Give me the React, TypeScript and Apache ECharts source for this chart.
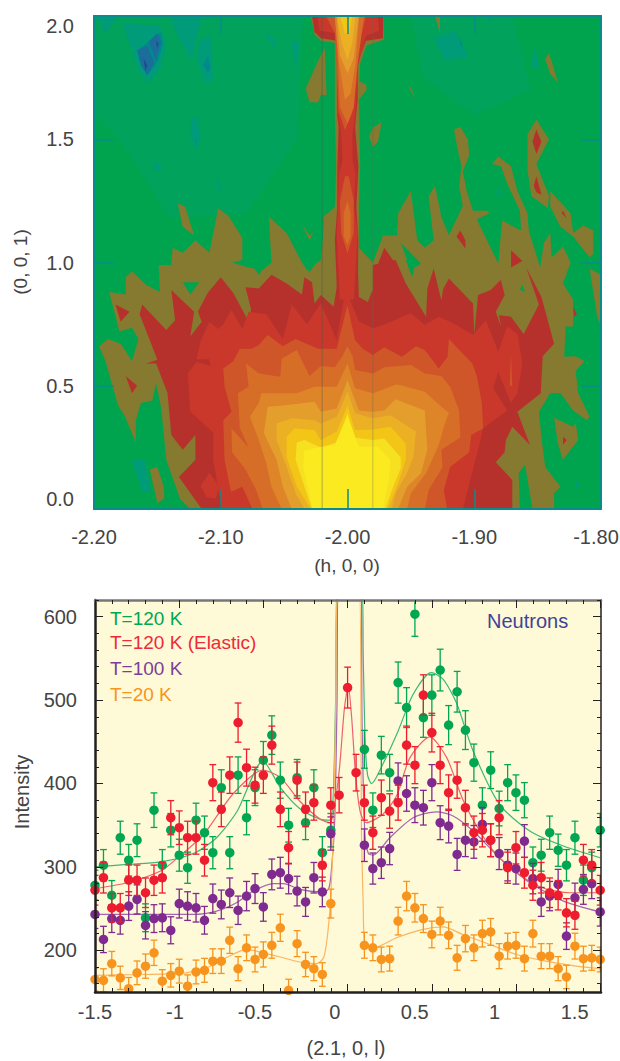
import React, { useEffect, useRef } from "react";
import * as echarts from "echarts";

// ---------- contour map: vertices are [ (h + 2.2) * 1000, l * 100 ] ----------
type P = number[][];
const levelBase: P[] = [[[0, 0], [400, 0], [400, 200], [0, 200]]];
const levelHaze: P[] = [
  [[2, 200], [165, 200], [160, 150], [120, 120], [60, 118], [20, 150], [0, 160]],
  [[250, 200], [330, 200], [345, 170], [300, 160], [260, 175]],
];
const levelTeal: P[] = [
  [[2, 200], [19, 200], [9, 193]],
  [[23, 197], [52, 196], [57, 188], [52, 178], [42.6, 173], [35, 178], [28, 189]],
  [[60, 200], [85, 200], [77, 182], [66, 192]],
  [[83, 190], [92, 192], [94, 174], [88, 172.6], [81, 182]],
  [[136, 193], [144, 190], [143, 187], [136, 191.4]],
  [[156, 190], [161.6, 189], [160, 179.4], [157, 184]],
  [[77, 159], [81, 159], [84, 152], [81, 145], [76, 151.6]],
  [[47, 141], [53.6, 139], [51, 137], [47, 139]],
  [[95, 136], [101, 129.4], [98, 130]],
  [[268, 191], [285, 194], [295, 183.5], [277, 182]],
  [[348, 188], [351, 178], [345, 180]],
  [[310, 200], [314, 200], [312, 197]],
  [[318, 131], [322, 128], [318, 127]],
  [[30, 20], [40, 20], [45, 7], [38, 7]],
  [[381, 12], [383, 9], [380, 9]],
];
const levelDeepTeal: P[] = [
  [[34, 186], [52.6, 193.5], [54.6, 188.5], [50, 181], [42, 176], [37, 180]],
  [[90, 184], [92, 179], [90, 177], [86, 180]],
  [[80, 151], [81, 149], [80, 148]],
  [[288, 191.6], [291, 187.8], [289, 188]],
];
const levelBlue: P[] = [
  [[43, 189.6], [50, 193], [53, 189.6], [49, 182]],
  [[34, 186], [42, 188], [47.6, 181], [42, 176], [37.3, 180]],
];
const levelNavy: P[] = [
  [[39, 183], [42, 180], [40.6, 177.6]],
  [[49, 190], [51, 188.6], [49.7, 187]],
];
const levelOlive: P[] = [
  [[76, 0], [68, 4], [57, 20], [53, 41], [49, 51], [46, 44], [37, 43], [33, 36], [33, 27], [24, 38], [19, 42], [9, 60], [4, 66], [11, 69], [21, 67], [30, 60], [35, 69], [30, 73.5], [20, 72], [12, 88], [25, 87], [25, 94], [30, 96.5], [41, 91], [52, 88], [51, 99], [61, 99], [62, 106], [70, 104], [80, 109], [91, 104], [98, 122], [106, 119], [117, 110], [117, 101], [109, 100], [122, 98], [133, 97], [140, 100], [138, 118.6], [152, 112], [163, 101], [168, 97], [179, 101], [180, 106], [182, 119], [190, 122], [209, 106], [220, 100], [228, 111], [239, 111], [240, 120], [250, 129], [255, 109], [261, 106], [268, 109], [264, 127], [269, 131], [274, 118.6], [280, 111], [291, 123], [288, 131], [290, 139], [287, 145.6], [284, 154], [289, 155], [295, 150], [296, 143.5], [291, 137], [294, 129], [299, 121], [310, 121], [312, 120], [302, 117.5], [319, 99.6], [322, 117], [337, 113], [336, 121], [326, 132], [321, 139], [314, 140], [319, 143], [329, 139], [334, 129], [342, 120], [343, 113], [352, 98], [355, 108], [360, 112], [361, 102], [370, 106.5], [376, 100], [370, 91.5], [378, 85], [378, 74], [385, 74], [372, 74], [371, 61.8], [380, 62], [387, 60], [380, 56], [382, 47], [391, 37.4], [389, 36], [378, 40], [368, 47], [360, 47], [351, 39.5], [353, 29], [356, 17], [368, 9], [363, 6.4], [363, 0], [346, 0], [340, 18], [335, 14.5], [336, 0]],
  [[360, 129], [376, 120], [378, 112], [386, 115], [394, 113], [394, 103.7], [391, 102], [378, 110.5], [368, 114.5], [360, 122.6]],
  [[391, 97.5], [400, 95], [400, 74], [397, 78]],
  [[363, 37], [378, 33.4], [380, 35], [382, 28], [370, 20], [366, 26.5]],
  [[44, 16], [50, 17], [55, 9], [55.5, 4.3], [50, 2.3]],
  [[66, 124], [72, 122.6], [79, 111], [70, 114.5]],
  [[164, 115.6], [170, 111], [173, 112.4], [170, 109]],
  [[228, 131], [235, 124.7], [231, 128.5]],
  [[349, 158], [359, 150], [349, 140], [359, 127], [358, 122], [345, 127], [342, 137.5], [342, 152]],
  [[269, 200], [273, 200], [273, 193]],
  [[359, 185], [366, 173], [360, 176.5], [356, 182.5]],
  [[249, 172], [254, 166], [249, 170.5]],
  [[227, 157], [224, 149], [220, 147], [217, 151], [220, 154.7]],
  [[177, 182], [182, 187], [183.5, 168], [179, 168], [177, 165], [170, 165], [167, 170.6]],
  [[209, 173.6], [215, 172], [215, 170], [209, 166]],
  [[171, 200], [174, 192.4], [179, 190], [190, 189], [190, 159], [191, 139], [190, 122.6], [181.4, 118.6], [180, 98], [211, 98], [209, 106], [209, 122.6], [210, 139], [209, 166], [210, 180.7], [215, 188], [229, 190.5], [228.2, 200]],
];
const levelHoles: P[] = [
  [[70, 92], [83, 92], [76, 87]],
  [[122, 101], [138, 101], [130, 95]],
  [[163, 101], [176.5, 101], [170, 96]],
  [[246, 101], [254, 101], [251, 94]],
  [[242, 108], [258, 99.6], [250, 97]],
  [[338, 91], [340, 88], [336, 89]],
];
const levelDarkRed: P[] = [
  [[85, 0], [67, 13], [80, 20], [80, 30], [70, 24], [61, 30], [58, 47], [49, 59], [41, 59], [50, 60.5], [36, 79], [38, 83], [57, 72.6], [64, 76.6], [61, 88.8], [79, 80], [76, 70], [85, 76], [82, 80], [89.5, 87.5], [100, 94], [110, 87.5], [121, 77], [124, 80.7], [119.5, 90], [130, 89.5], [140, 95], [152, 91.5], [164, 87], [166, 94], [172, 92], [174, 83.4], [179, 86.8], [189, 82], [191.5, 90], [192, 101], [208, 101], [209, 86], [216, 84], [220, 89], [220, 99], [238, 101], [246, 91.5], [262, 78], [263, 89.5], [268, 97.6], [274, 84.7], [275.6, 89.5], [280, 93.5], [299, 83.4], [300, 71], [303, 86.8], [313, 88.8], [321, 93], [324, 86.8], [317, 80], [321, 74], [319.5, 78.6], [329, 78], [339, 71], [351, 83], [341, 98], [353, 86], [363, 67], [354, 62], [352.5, 47], [334, 39.5], [344, 26], [330, 33.4], [325, 28], [324, 23], [317, 19], [330, 11.8], [330, 0]],
  [[17, 83], [28, 80], [21, 76]],
  [[25, 54], [34, 50], [30, 47]],
  [[229, 106], [240, 98], [223, 98]],
  [[289, 113], [293, 109], [293, 105.7], [286, 110.5]],
  [[329, 105], [338, 100.6], [329, 98]],
  [[370, 121], [373, 118], [369, 120]],
  [[378, 82], [381, 79], [379, 78]],
  [[370, 29.3], [373, 28], [370, 26]],
  [[349, 154], [353, 149], [349, 144], [346, 149]],
  [[349, 135], [353, 127.5], [349, 128.5], [347, 131]],
  [[172, 200], [174, 193.5], [179, 191], [192, 190], [192, 159], [193, 155], [192, 139], [192, 122.6], [190, 109], [192, 85], [208, 85], [208.6, 109], [207, 122.6], [208.6, 139], [206, 155], [208, 166], [208, 181], [214.6, 190], [228, 191], [228, 200]],
];
const levelRed: P[] = [
  [[101, 0], [94, 20], [94, 31], [76, 39.5], [74, 55], [81, 59.7], [92, 58], [91, 60.7], [81, 60.7], [84, 68], [91, 76], [98, 73], [102, 75], [108.5, 80.7], [117, 73], [122, 80], [136, 79], [149, 69], [156, 83], [168, 75], [179, 83.4], [191.5, 68.5], [197, 84.8], [200, 88], [202, 84.8], [209, 76], [220, 73.3], [228, 74.6], [250, 79.4], [261, 74.6], [272, 78], [285, 75], [299, 70.6], [309, 76.6], [319, 63.8], [326, 74], [334, 71], [338, 59], [334, 47], [329, 43], [319, 55.7], [315, 49], [326, 40], [307, 32.7], [303, 24], [291, 0]],
  [[91, 14.7], [99, 9], [96, 4.3], [89, 4.7], [84, 9.3]],
  [[176.5, 200], [178, 194], [191.5, 193], [192.5, 160.5], [195, 152.4], [196, 141.5], [193.5, 136], [192.5, 122.6], [191.5, 112], [194, 85], [205, 85], [208, 112], [205, 122.6], [206.4, 136], [204, 141.5], [204, 152.4], [206.4, 160.5], [208, 179.4], [214.6, 192], [225, 194], [224, 200]],
];
const levelOrangeRed: P[] = [
  [[125, 0], [117, 9], [108, 7], [103, 20], [102, 36], [108.5, 39.5], [103, 49.6], [102, 57], [110, 60], [115, 65], [124, 65], [130, 66.5], [137, 70.6], [149, 66], [159, 69], [176.6, 65], [191.5, 65], [197, 76.6], [200, 82.7], [202.5, 76.6], [206, 68.5], [212, 65], [220, 62.5], [229, 65.6], [243, 61.8], [254, 66], [261, 64.5], [272, 57], [279, 61.8], [280, 69], [298.5, 59], [302, 54], [306, 43], [307, 32.7], [297.6, 30], [296, 23], [281, 17], [276, 7.7], [278.6, 0]],
  [[329, 63], [330, 50], [328, 50]],
  [[183, 200], [190, 193], [191.5, 179.4], [193, 161.8], [198, 153.7], [203.7, 160.5], [207, 179.4], [208, 186], [214.6, 200]],
  [[198, 135], [194, 125], [195, 112], [200, 103.7], [205, 112], [205, 125], [201, 135]],
];
const levelOrange: P[] = [
  [[133, 0], [128, 7.7], [119.5, 16], [109, 23], [108.5, 32.7], [122, 25], [115, 33], [113.5, 47], [122, 49.6], [120, 59], [130, 55], [147, 53.7], [148, 61], [160, 64.5], [170, 54], [179, 58], [190, 57.5], [196, 62], [200, 66], [204, 62], [206, 56.4], [220, 55], [229, 57.5], [250, 58.4], [261, 55], [274, 54], [281, 49.6], [288, 40], [289, 29], [274, 24], [275, 17], [264, 7.7], [261, 0]],
  [[190, 200], [192, 186], [194, 163], [200, 156.4], [205, 163], [208, 180.7], [213, 200]],
  [[200, 125], [197, 120], [197, 110.5], [200, 107], [202.5, 110.5], [202.5, 120]],
];
const levelAmber1: P[] = [
  [[148, 0], [140, 9], [136, 18.5], [130, 28], [123, 37.4], [130, 43], [132, 47], [160, 47], [174, 49.6], [191.5, 49.6], [200, 59], [206, 49], [220, 47], [239, 50.6], [261, 47.6], [273, 42], [280, 39], [277, 35], [272, 26], [262, 14.5], [250, 6.4], [247, 0]],
  [[190, 200], [193, 182], [198, 166], [202.5, 168.6], [206.4, 180.7], [209, 200]],
];
const levelAmber2: P[] = [
  [[156, 0], [149, 9], [144, 20], [134, 30.7], [137, 41.5], [149, 42], [174, 43.5], [179, 39.5], [191.5, 40.8], [200, 52.3], [209, 40], [220, 39.5], [229, 40], [238, 44.5], [261, 40], [263, 24], [258, 14.5], [247, 9], [240, 0]],
  [[191.5, 200], [194, 184], [200, 176.7], [205, 183], [209, 200]],
];
const levelGold1: P[] = [
  [[166, 0], [159, 6.4], [152, 17], [144, 28], [144, 34.7], [156, 36.8], [174, 36], [179, 34.7], [191.5, 37.4], [200, 47.6], [206, 38.8], [220, 36.8], [234, 38], [254, 31.4], [252, 21], [247, 14.5], [238, 6.4], [235, 0]],
  [[191.5, 200], [195.6, 189], [200, 182], [203.7, 189], [206.4, 200]],
];
const levelGold2: P[] = [
  [[171, 0], [160, 9], [152, 21], [152, 29.3], [158, 32.7], [174, 32], [179, 28], [191.5, 31.4], [200, 42], [206, 32], [220, 32.3], [234, 33.4], [246, 26.6], [246, 20], [240, 10.4], [232, 0]],
  [[194, 200], [198, 193], [201.5, 193], [203.7, 200]],
];
const levelYellow1: P[] = [
  [[172, 0], [166, 9], [159, 20], [160, 27], [166, 28], [179, 25], [191, 27], [200, 38.8], [206, 29], [220, 28], [229, 28.6], [242, 21], [242, 16.5], [236, 9], [230, 0]],
];
const levelYellow2: P[] = [
  [[172.5, 0], [165, 17], [166, 23.7], [176.5, 25], [190, 26], [200, 37.4], [209, 25.3], [224, 25.3], [234, 20], [233, 13], [228, 0]],
];
const contourLayers: [P[], string][] = [
  [levelBase, "#00A44F"], [levelHaze, "#01A25B"], [levelTeal, "#009B78"], [levelDeepTeal, "#008A8C"],
  [levelBlue, "#1B6E9B"], [levelNavy, "#1F4C8C"], [levelOlive, "#857A2F"], [levelHoles, "#00A44F"],
  [levelDarkRed, "#B7312C"], [levelRed, "#C9382B"], [levelOrangeRed, "#CF5629"], [levelOrange, "#D66E28"],
  [levelAmber1, "#DE8429"], [levelAmber2, "#E49E2B"], [levelGold1, "#EBB024"], [levelGold2, "#F2C516"],
  [levelYellow1, "#F7E020"], [levelYellow2, "#FBEA1F"],
];
const guideLines = [-2.02, -1.98];

// ---------- line scan ----------
const lValues = [-1.5, -1.447, -1.395, -1.342, -1.289, -1.237, -1.184, -1.131, -1.079, -1.026, -0.973, -0.921, -0.868, -0.815, -0.763, -0.71, -0.657, -0.605, -0.552, -0.499, -0.447, -0.394, -0.341, -0.289, -0.236, -0.183, -0.131, -0.078, -0.025, 0.027, 0.08, 0.133, 0.185, 0.238, 0.291, 0.343, 0.396, 0.449, 0.501, 0.554, 0.607, 0.659, 0.712, 0.765, 0.817, 0.87, 0.923, 0.975, 1.028, 1.081, 1.133, 1.186, 1.239, 1.291, 1.344, 1.397, 1.449, 1.502, 1.555, 1.607, 1.66];
const green120 = [278, 302, 266, 335, 308, 332, 239, 368, 302, 344, 314, 299, 356, 341, 317, 395, 317, 410, 359, 395, 428, 458, 404, 350, 407, 353, 395, 317, 344, null, null, null, 441, 368, 434, 413, 521, 491, 603, 479, 506, 536, 470, 510, 464, 425, 374, 416, 370, 401, 389, 380, 305, 314, 341, 320, 302, 335, 284, 299, 344];
const redElastic = [272, 287, 251, 251, 284, 284, 269, 284, 287, 359, 347, 335, 335, 308, 401, 369, 410, 473, 419, 398, 410, 446, 369, 323, 404, 369, 377, 302, 374, 386, 515, 413, 377, 341, 383, 367, 377, 446, 422, 506, 461, 422, 389, 404, 371, 341, 344, 332, 359, 299, 323, 293, 278, 287, 269, 266, 245, 242, 308, 302, 272];
const purple100 = [243, 213, 238, 236, 253, 261, 230, 238, 239, 224, 256, 253, 251, 236, 262, 255, 269, 248, 265, 274, 252, 291, 293, 286, 271, 258, 287, 270, 340, null, null, null, 326, 298, 305, 322, 403, 388, 374, 371, 401, 353, 349, 315, 332, 330, 351, 332, 316, 302, 298, 331, 286, 258, 265, 279, 217, 263, 273, 280, 246];
const orange20 = [165, 164, 184, 167, 154, 173, 181, 197, 163, 170, 175, 157, 174, 176, 187, 187, 212, 178, 203, 189, 195, 206, 227, 152, 208, 183, 178, 171, 256, null, null, null, 206, 203, 189, 190, 235, 265, 251, 238, 219, 235, 218, 191, 214, 203, 220, 222, 193, 205, 206, 190, 220, 193, 193, 178, 168, 205, 190, 191, 189];

const greenFit = [[-1.5, 300], [-1.3, 303], [-1.09, 306], [-0.885, 316], [-0.74, 335], [-0.61, 367], [-0.45, 427], [-0.34, 395], [-0.22, 370], [-0.09, 357], [-0.03, 356], [-0.01, 385], [0.005, 500], [0.015, 640], [0.17, 640], [0.178, 550], [0.19, 450], [0.205, 410], [0.23, 400], [0.3, 423], [0.396, 463], [0.49, 507], [0.604, 533], [0.677, 525], [0.76, 497], [0.865, 439], [1.03, 375], [1.22, 343], [1.43, 325], [1.66, 311]];
const redFit = [[-1.5, 274], [-1.3, 281], [-1.09, 295], [-0.97, 313], [-0.82, 339], [-0.635, 388], [-0.45, 416], [-0.34, 407], [-0.22, 379], [-0.09, 357], [-0.03, 353], [0, 375], [0.03, 420], [0.06, 490], [0.084, 517], [0.105, 480], [0.13, 410], [0.16, 365], [0.198, 353], [0.3, 363], [0.386, 385], [0.47, 431], [0.594, 456], [0.7, 431], [0.8, 381], [0.906, 343], [1.01, 315], [1.136, 293], [1.3, 275], [1.47, 269], [1.66, 269]];
const purpleFit = [[-1.5, 243], [-1.2, 243], [-0.885, 243], [-0.74, 247], [-0.615, 257], [-0.51, 271], [-0.385, 280], [-0.32, 280], [-0.22, 273], [-0.09, 270], [-0.04, 273], [-0.02, 299], [0, 359], [0.014, 500], [0.022, 640], [0.165, 640], [0.17, 480], [0.188, 339], [0.21, 316], [0.24, 314], [0.344, 335], [0.49, 359], [0.636, 366], [0.74, 361], [0.865, 343], [1.03, 311], [1.22, 281], [1.43, 259], [1.66, 246]];
const orangeFit = [[-1.5, 170], [-1.2, 171], [-0.93, 173], [-0.8, 179], [-0.68, 191], [-0.55, 201], [-0.45, 197], [-0.34, 192], [-0.22, 186], [-0.115, 184], [-0.07, 191], [-0.045, 219], [-0.027, 259], [-0.01, 339], [0.006, 500], [0.02, 640], [0.152, 640], [0.167, 339], [0.177, 259], [0.188, 207], [0.24, 203], [0.386, 215], [0.552, 225], [0.677, 228], [0.8, 219], [0.97, 207], [1.136, 195], [1.32, 187], [1.51, 181], [1.66, 178]];

const xLabelValues = [-1.5, -1, -0.5, 0, 0.5, 1, 1.5];
const yLabelValues = [200, 300, 400, 500, 600];
const yMinorTicks = [160, 180, 220, 240, 260, 280, 320, 340, 360, 380, 420, 440, 460, 480, 520, 540, 560, 580, 620];
const legendNames = ["T=120 K", "T=120 K (Elastic)", "T=100 K", "T=20 K"];

const FONT = "'Liberation Sans Narrow', 'Liberation Sans', sans-serif";
const INK = "#444444";
const TEAL = "#0A8C8C";
const BLACK = "#231F20";
const TICK_FONT = 20;

function App() {
  const ref = useRef<HTMLDivElement>(null);
  useEffect(() => {
    const chart = echarts.init(ref.current!, undefined, { renderer: "svg" });
    const polys: { pts: P; color: string }[] = [];
    contourLayers.forEach(([list, color]) => list.forEach((pts) => polys.push({ pts, color })));

    const xMajor = lValues.filter((_, i) => i % 10 === 0);
    const xMinor = lValues.filter((_, i) => i % 2 === 0 && i % 10 !== 0);

    const scanSeries = [
      { name: legendNames[0], vals: green120, fit: greenFit, color: "#00A651", line: "#3CB878" },
      { name: legendNames[2], vals: purple100, fit: purpleFit, color: "#7F2A8E", line: "#A366B0" },
      { name: legendNames[3], vals: orange20, fit: orangeFit, color: "#F7941D", line: "#FBB561" },
      { name: legendNames[1], vals: redElastic, fit: redFit, color: "#ED1C2E", line: "#F0626A" },
    ];

    const series: any[] = [
      {
        type: "custom", xAxisIndex: 0, yAxisIndex: 0, silent: true, z: 1,
        data: polys.map((_, i) => [i, 0]),
        encode: { x: 0, y: 1 },
        renderItem: (params: any, api: any) => {
          const p = polys[params.dataIndex];
          return {
            type: "polygon",
            shape: { points: p.pts.map((v) => api.coord([-2.2 + v[0] / 1000, v[1] / 100])) },
            style: { fill: p.color },
          };
        },
      },
      ...guideLines.map((h, i) => ({
        type: "line", xAxisIndex: 0, yAxisIndex: 0, silent: true, z: 2, symbol: "none",
        data: [[h, 0], [h, 2]],
        lineStyle: { width: 1, color: i === 0 ? "rgba(60,90,80,0.42)" : "rgba(90,110,90,0.34)" },
      })),
    ];

    scanSeries.forEach((s) => {
      series.push({
        type: "line", xAxisIndex: 2, yAxisIndex: 2, silent: true, z: 3, symbol: "none",
        smooth: 0.25, clip: true, data: s.fit,
        lineStyle: { width: 1.2, color: s.line },
      });
    });
    scanSeries.forEach((s, k) => {
      const pts = lValues.map((x, i) => [x, s.vals[i]]).filter((p) => p[1] !== null);
      series.push({
        type: "custom", xAxisIndex: 2, yAxisIndex: 2, silent: true, z: 4 + k, clip: true,
        data: pts, encode: { x: 0, y: 1 },
        renderItem: (_: any, api: any) => {
          const x = api.value(0);
          const v = api.value(1);
          const e = Math.sqrt(v) * 1.08;
          const a = api.coord([x, v + e]);
          const b = api.coord([x, v - e]);
          const st = { stroke: s.color, lineWidth: 1.3 };
          return {
            type: "group",
            children: [
              { type: "line", shape: { x1: a[0], y1: a[1], x2: b[0], y2: b[1] }, style: st },
              { type: "line", shape: { x1: a[0] - 3.4, y1: a[1], x2: a[0] + 3.4, y2: a[1] }, style: st },
              { type: "line", shape: { x1: b[0] - 3.4, y1: b[1], x2: b[0] + 3.4, y2: b[1] }, style: st },
            ],
          };
        },
      });
      series.push({
        name: s.name, type: "scatter", xAxisIndex: 2, yAxisIndex: 2, silent: true, z: 4 + k,
        symbolSize: 9.5, data: pts, itemStyle: { color: s.color, opacity: 1 },
      });
    });

    const tealAxis = { show: true, onZero: false, lineStyle: { color: TEAL, width: 2 } };
    const noLine = { show: false, onZero: false };
    const hiddenLabel = { show: false };
    const text = (str: string, x: number, y: number, fill: string, size: number, extra: any = {}) => ({
      type: "text", x, y, z: 20, ...extra,
      style: { text: str, fill, fontFamily: FONT, fontSize: size, ...(extra.style || {}) },
    });

    const option: any = {
      animation: false,
      grid: [
        { left: 94, top: 16, width: 507, height: 493, z: 0, outerBoundsMode: "none" },
        { left: 95, top: 600, width: 506, height: 392, show: true, backgroundColor: "#FEF9D6", borderWidth: 0, outerBoundsMode: "none" },
      ],
      xAxis: [
        { gridIndex: 0, type: "value", position: "bottom", min: -2.2, max: -1.8, interval: 0.1, splitLine: { show: false }, axisLine: tealAxis, axisTick: { inside: true, length: 20, lineStyle: { color: TEAL, width: 1.5 } }, axisLabel: { margin: 18, showMaxLabel: false, fontFamily: FONT, fontSize: TICK_FONT, color: INK, formatter: (v: number) => v.toFixed(2) }, z: 10 },
        { gridIndex: 0, type: "value", position: "top", min: -2.2, max: -1.8, interval: 0.1, splitLine: { show: false }, axisLine: tealAxis, axisTick: { inside: true, length: 18, lineStyle: { color: TEAL, width: 1.5 } }, axisLabel: hiddenLabel, z: 10 },
        { gridIndex: 1, type: "value", position: "bottom", min: -1.5, max: 1.665, splitLine: { show: false }, axisLine: { onZero: false, lineStyle: { color: BLACK, width: 2.5 } }, axisTick: { inside: true, length: 8, customValues: xMajor, lineStyle: { color: BLACK, width: 1 } }, axisLabel: { margin: 10, customValues: xLabelValues, fontFamily: FONT, fontSize: TICK_FONT, color: INK, formatter: (v: number) => String(v) }, z: 10 },
        { gridIndex: 1, type: "value", position: "bottom", min: -1.5, max: 1.665, splitLine: { show: false }, axisLine: noLine, axisTick: { inside: true, length: 4, customValues: xMinor, lineStyle: { color: BLACK, width: 1 } }, axisLabel: hiddenLabel, z: 10 },
        { gridIndex: 1, type: "value", position: "top", min: -1.5, max: 1.665, splitLine: { show: false }, axisLine: { onZero: false, lineStyle: { color: "#777777", width: 2.5 } }, axisTick: { inside: true, length: 8, customValues: xMajor, lineStyle: { color: BLACK, width: 1 } }, axisLabel: hiddenLabel, z: 10 },
        { gridIndex: 1, type: "value", position: "top", min: -1.5, max: 1.665, splitLine: { show: false }, axisLine: noLine, axisTick: { inside: true, length: 4, customValues: xMinor, lineStyle: { color: BLACK, width: 1 } }, axisLabel: hiddenLabel, z: 10 },
      ],
      yAxis: [
        { gridIndex: 0, type: "value", position: "left", min: 0, max: 2, interval: 0.5, splitLine: { show: false }, axisLine: tealAxis, axisTick: { inside: true, length: 20, lineStyle: { color: TEAL, width: 1.5 } }, axisLabel: { margin: 20, fontFamily: FONT, fontSize: TICK_FONT, color: INK, verticalAlignMinLabel: "bottom", verticalAlignMaxLabel: "top", formatter: (v: number) => v.toFixed(1) }, z: 10 },
        { gridIndex: 0, type: "value", position: "right", min: 0, max: 2, interval: 0.5, splitLine: { show: false }, axisLine: tealAxis, axisTick: { inside: true, length: 20, lineStyle: { color: TEAL, width: 1.5 } }, axisLabel: hiddenLabel, z: 10 },
        { gridIndex: 1, type: "value", position: "left", min: 150, max: 620, splitLine: { show: false }, axisLine: { onZero: false, lineStyle: { color: BLACK, width: 2.5 } }, axisTick: { inside: true, length: 8, customValues: yLabelValues, lineStyle: { color: BLACK, width: 1 } }, axisLabel: { margin: 18, customValues: yLabelValues, fontFamily: FONT, fontSize: TICK_FONT, color: INK }, z: 10 },
        { gridIndex: 1, type: "value", position: "left", min: 150, max: 620, splitLine: { show: false }, axisLine: noLine, axisTick: { inside: true, length: 4, customValues: yMinorTicks, lineStyle: { color: BLACK, width: 1 } }, axisLabel: hiddenLabel, z: 10 },
        { gridIndex: 1, type: "value", position: "right", min: 150, max: 620, splitLine: { show: false }, axisLine: { onZero: false, lineStyle: { color: BLACK, width: 1.5 } }, axisTick: { inside: true, length: 8, customValues: yLabelValues, lineStyle: { color: BLACK, width: 1 } }, axisLabel: hiddenLabel, z: 10 },
        { gridIndex: 1, type: "value", position: "right", min: 150, max: 620, splitLine: { show: false }, axisLine: noLine, axisTick: { inside: true, length: 4, customValues: yMinorTicks, lineStyle: { color: BLACK, width: 1 } }, axisLabel: hiddenLabel, z: 10 },
      ],
      series,
      graphic: [
        text(legendNames[0], 110, 609, "#00A651", 19),
        text(legendNames[1], 110, 633, "#ED2A3A", 19),
        text(legendNames[2], 110, 659, "#7B3F98", 19),
        text(legendNames[3], 110, 685, "#F7941D", 19),
        text("Neutrons", 487, 611, "#3F4496", 20),
        text("-1.80", 596, 537, INK, TICK_FONT, { style: { textAlign: "center", textVerticalAlign: "middle" } }),
        text("(h, 0, 0)", 347, 565, INK, 19, { style: { textAlign: "center", textVerticalAlign: "middle" } }),
        text("(2.1, 0, l)", 346, 1048, INK, 20, { style: { textAlign: "center", textVerticalAlign: "middle" } }),
        text("(0, 0, 1)", 20, 262, INK, 19, { rotation: Math.PI / 2, style: { textAlign: "center", textVerticalAlign: "middle" } }),
        text("Intensity", 22, 792, INK, 20, { rotation: Math.PI / 2, style: { textAlign: "center", textVerticalAlign: "middle" } }),
      ],
    };
    chart.setOption(option);
    return () => chart.dispose();
  }, []);
  return <div ref={ref} style={{ position: "absolute", left: 0, top: 0, width: 620, height: 1061 }} />;
}

export default App;
